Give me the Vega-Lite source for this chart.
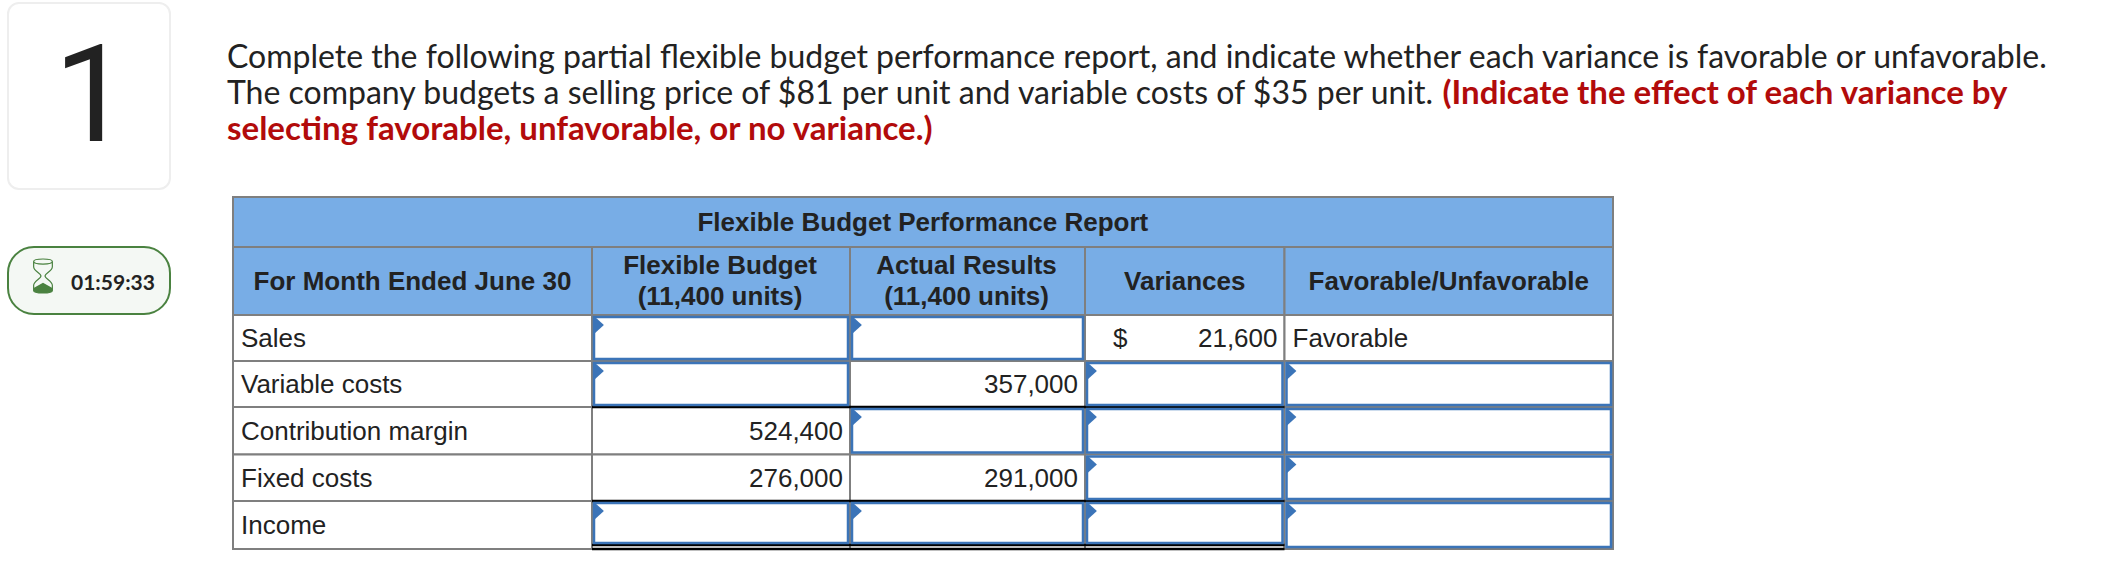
{
  "$schema": "https://vega.github.io/schema/vega-lite/v6.json",
  "description": "Partial flexible budget performance report with its question text.",
  "autosize": {"type": "fit", "contains": "padding"},
  "width": 2120,
  "height": 582,
  "padding": 0,
  "background": "white",
  "config": {"view": {"stroke": null}},
  "datasets": {
    "card": [{"col": -3, "col_end": -1, "row": -5, "row_end": -1}],
    "number": [{"col": -2, "row": -3, "label": "1"}],
    "timer": [{"col": -3, "col_end": -1, "row": 1, "row_end": 2, "label": "01:59:33"}],
    "timer_anchor": [{"col": -3, "row": 1.5, "label": "01:59:33"}],
    "prompt": [
      {"col": 0, "row": -4, "label": "Complete the following partial flexible budget performance report, and indicate whether each variance is favorable or unfavorable."},
      {"col": 0, "row": -3, "label": "The company budgets a selling price of $81 per unit and variable costs of $35 per unit."}
    ],
    "prompt_bold": [{"col": 0, "row": -2, "label": "selecting favorable, unfavorable, or no variance.)"}],
    "prompt_bold_inline": [{"col": 4, "row": -3, "label": "(Indicate the effect of each variance by"}],
    "header_cells": [
      {"col": 0, "col_end": 5, "row": 0, "row_end": 1},
      {"col": 0, "col_end": 1, "row": 1, "row_end": 2},
      {"col": 1, "col_end": 2, "row": 1, "row_end": 2},
      {"col": 2, "col_end": 3, "row": 1, "row_end": 2},
      {"col": 3, "col_end": 4, "row": 1, "row_end": 2},
      {"col": 4, "col_end": 5, "row": 1, "row_end": 2}
    ],
    "body_cells": [
      {"col": 0, "col_end": 1, "row": 2, "row_end": 3},
      {"col": 1, "col_end": 2, "row": 2, "row_end": 3},
      {"col": 2, "col_end": 3, "row": 2, "row_end": 3},
      {"col": 3, "col_end": 4, "row": 2, "row_end": 3},
      {"col": 4, "col_end": 5, "row": 2, "row_end": 3},
      {"col": 0, "col_end": 1, "row": 3, "row_end": 4},
      {"col": 1, "col_end": 2, "row": 3, "row_end": 4},
      {"col": 2, "col_end": 3, "row": 3, "row_end": 4},
      {"col": 3, "col_end": 4, "row": 3, "row_end": 4},
      {"col": 4, "col_end": 5, "row": 3, "row_end": 4},
      {"col": 0, "col_end": 1, "row": 4, "row_end": 5},
      {"col": 1, "col_end": 2, "row": 4, "row_end": 5},
      {"col": 2, "col_end": 3, "row": 4, "row_end": 5},
      {"col": 3, "col_end": 4, "row": 4, "row_end": 5},
      {"col": 4, "col_end": 5, "row": 4, "row_end": 5},
      {"col": 0, "col_end": 1, "row": 5, "row_end": 6},
      {"col": 1, "col_end": 2, "row": 5, "row_end": 6},
      {"col": 2, "col_end": 3, "row": 5, "row_end": 6},
      {"col": 3, "col_end": 4, "row": 5, "row_end": 6},
      {"col": 4, "col_end": 5, "row": 5, "row_end": 6},
      {"col": 0, "col_end": 1, "row": 6, "row_end": 7},
      {"col": 1, "col_end": 2, "row": 6, "row_end": 7},
      {"col": 2, "col_end": 3, "row": 6, "row_end": 7},
      {"col": 3, "col_end": 4, "row": 6, "row_end": 7},
      {"col": 4, "col_end": 5, "row": 6, "row_end": 7}
    ],
    "inputs": [
      {"line": "Sales", "column": "Flexible Budget", "col": 1, "col_end": 2, "row": 2, "row_end": 3},
      {"line": "Sales", "column": "Actual Results", "col": 2, "col_end": 3, "row": 2, "row_end": 3},
      {"line": "Variable costs", "column": "Flexible Budget", "col": 1, "col_end": 2, "row": 3, "row_end": 4},
      {"line": "Variable costs", "column": "Variances", "col": 3, "col_end": 4, "row": 3, "row_end": 4},
      {"line": "Variable costs", "column": "Favorable/Unfavorable", "col": 4, "col_end": 5, "row": 3, "row_end": 4},
      {"line": "Contribution margin", "column": "Actual Results", "col": 2, "col_end": 3, "row": 4, "row_end": 5},
      {"line": "Contribution margin", "column": "Variances", "col": 3, "col_end": 4, "row": 4, "row_end": 5},
      {"line": "Contribution margin", "column": "Favorable/Unfavorable", "col": 4, "col_end": 5, "row": 4, "row_end": 5},
      {"line": "Fixed costs", "column": "Variances", "col": 3, "col_end": 4, "row": 5, "row_end": 6},
      {"line": "Fixed costs", "column": "Favorable/Unfavorable", "col": 4, "col_end": 5, "row": 5, "row_end": 6},
      {"line": "Income", "column": "Favorable/Unfavorable", "col": 4, "col_end": 5, "row": 6, "row_end": 7}
    ],
    "total_inputs": [
      {"line": "Income", "column": "Flexible Budget", "col": 1, "col_end": 2, "row": 6, "row_end": 7},
      {"line": "Income", "column": "Actual Results", "col": 2, "col_end": 3, "row": 6, "row_end": 7},
      {"line": "Income", "column": "Variances", "col": 3, "col_end": 4, "row": 6, "row_end": 7}
    ],
    "rules": [
      {"col": 1, "col_end": 4, "row": 4},
      {"col": 1, "col_end": 4, "row": 6},
      {"col": 1, "col_end": 4, "row": 7}
    ],
    "double_rule": [{"col": 1, "col_end": 4, "row": 7}],
    "headers": [
      {"col": 2.31, "row": 0.5, "label": "Flexible Budget Performance Report"},
      {"col": 0.5, "row": 1.5, "label": "For Month Ended June 30"},
      {"col": 3.5, "row": 1.5, "label": "Variances"},
      {"col": 4.5, "row": 1.5, "label": "Favorable/Unfavorable"}
    ],
    "headers_stacked": [
      {"col": 1.5, "row": 1.5, "label": "Flexible Budget\n(11,400 units)"},
      {"col": 2.5, "row": 1.5, "label": "Actual Results\n(11,400 units)"}
    ],
    "labels": [
      {"col": 0, "row": 2.5, "label": "Sales"},
      {"col": 0, "row": 3.5, "label": "Variable costs"},
      {"col": 0, "row": 4.5, "label": "Contribution margin"},
      {"col": 0, "row": 5.5, "label": "Fixed costs"},
      {"col": 0, "row": 6.5, "label": "Income"},
      {"col": 3.1, "row": 2.5, "label": "$"},
      {"col": 4, "row": 2.5, "label": "Favorable"}
    ],
    "amounts": [
      {"col": 4, "row": 2.5, "label": "21,600"},
      {"col": 3, "row": 3.5, "label": "357,000"},
      {"col": 2, "row": 4.5, "label": "524,400"},
      {"col": 2, "row": 5.5, "label": "276,000"},
      {"col": 3, "row": 5.5, "label": "291,000"}
    ]
  },
  "encoding": {
    "x": {
      "field": "col",
      "type": "quantitative",
      "axis": null,
      "scale": {
        "domain": [-3, -2, -1, 0, 1, 2, 3, 4, 5],
        "range": [8, 88, 170, 233, 592, 850, 1085, 1284.5, 1613],
        "nice": false,
        "zero": false
      }
    },
    "y": {
      "field": "row",
      "type": "quantitative",
      "axis": null,
      "scale": {
        "domain": [-5, -4, -3, -2, -1, 0, 1, 2, 3, 4, 5, 6, 7],
        "range": [3, 57, 93, 129, 189, 197, 247, 315, 361, 407, 454.5, 501, 549],
        "nice": false,
        "zero": false
      }
    }
  },
  "layer": [
    {
      "data": {"name": "card"},
      "mark": {"type": "rect", "fill": "white", "stroke": "#eeeeee", "strokeWidth": 2, "cornerRadius": 11},
      "encoding": {"x2": {"field": "col_end"}, "y2": {"field": "row_end"}}
    },
    {
      "data": {"name": "number"},
      "mark": {"type": "text", "font": "Roboto", "fontWeight": 400, "fontSize": 136, "color": "#222222", "align": "center", "baseline": "middle", "dx": 4, "dy": 7},
      "encoding": {"text": {"field": "label"}}
    },
    {
      "data": {"name": "timer"},
      "mark": {"type": "rect", "fill": "#f4f8f4", "stroke": "#4a8240", "strokeWidth": 2, "cornerRadius": 26, "y2Offset": -1},
      "encoding": {"x2": {"field": "col_end"}, "y2": {"field": "row_end"}}
    },
    {
      "data": {"name": "timer_anchor"},
      "mark": {
        "type": "point",
        "shape": "M-0.55,-0.85C-0.55,-1.05 0.55,-1.05 0.55,-0.85L0.55,-0.55C0.55,-0.3 0.12,-0.15 0.12,0C0.12,0.15 0.55,0.3 0.55,0.55L0.55,0.85C0.55,1.05 -0.55,1.05 -0.55,0.85L-0.55,0.55C-0.55,0.3 -0.12,0.15 -0.12,0C-0.12,-0.15 -0.55,-0.3 -0.55,-0.55ZM-0.55,-0.85C-0.55,-0.65 0.55,-0.65 0.55,-0.85",
        "size": 1156,
        "filled": false,
        "stroke": "#4a8240",
        "strokeWidth": 1.2,
        "opacity": 1,
        "xOffset": 35,
        "yOffset": -5
      }
    },
    {
      "data": {"name": "timer_anchor"},
      "mark": {
        "type": "point",
        "shape": "M0,0.4L0.55,0.7L0.55,0.85C0.55,1.05 -0.55,1.05 -0.55,0.85L-0.55,0.7Z",
        "size": 1156,
        "filled": true,
        "fill": "#4a8240",
        "stroke": null,
        "opacity": 1,
        "xOffset": 35,
        "yOffset": -5
      }
    },
    {
      "data": {"name": "timer_anchor"},
      "mark": {"type": "text", "font": "Lato", "fontWeight": 700, "fontSize": 21, "color": "#222222", "align": "left", "baseline": "middle", "dx": 63, "dy": 3},
      "encoding": {"text": {"field": "label"}}
    },
    {
      "data": {"name": "prompt"},
      "mark": {"type": "text", "font": "Lato", "fontSize": 32, "color": "#222222", "align": "left", "baseline": "middle", "dx": -6, "dy": 1},
      "encoding": {"text": {"field": "label"}}
    },
    {
      "data": {"name": "prompt_bold"},
      "mark": {"type": "text", "font": "Lato", "fontWeight": 700, "fontSize": 33, "color": "#b20b0b", "align": "left", "baseline": "middle", "dx": -6, "dy": 1},
      "encoding": {"text": {"field": "label"}}
    },
    {
      "data": {"name": "prompt_bold_inline"},
      "mark": {"type": "text", "font": "Lato", "fontWeight": 700, "fontSize": 33, "color": "#b20b0b", "align": "left", "baseline": "middle", "dx": 158, "dy": 1},
      "encoding": {"text": {"field": "label"}}
    },
    {
      "data": {"name": "header_cells"},
      "mark": {"type": "rect", "fill": "#78ade6", "stroke": "#7f7f7f", "strokeWidth": 2},
      "encoding": {"x2": {"field": "col_end"}, "y2": {"field": "row_end"}}
    },
    {
      "data": {"name": "body_cells"},
      "mark": {"type": "rect", "fill": "white", "stroke": "#7f7f7f", "strokeWidth": 2},
      "encoding": {"x2": {"field": "col_end"}, "y2": {"field": "row_end"}}
    },
    {
      "data": {"name": "rules"},
      "mark": {"type": "rule", "stroke": "black", "strokeWidth": 2.5},
      "encoding": {"x2": {"field": "col_end"}}
    },
    {
      "data": {"name": "double_rule"},
      "mark": {"type": "rule", "stroke": "black", "strokeWidth": 2.5, "yOffset": -4},
      "encoding": {"x2": {"field": "col_end"}}
    },
    {
      "data": {"name": "inputs"},
      "mark": {"type": "rect", "fill": "white", "stroke": "#3b74b8", "strokeWidth": 2.5, "xOffset": 2, "x2Offset": -2, "yOffset": 2, "y2Offset": -2},
      "encoding": {"x2": {"field": "col_end"}, "y2": {"field": "row_end"}}
    },
    {
      "data": {"name": "total_inputs"},
      "mark": {"type": "rect", "fill": "white", "stroke": "#3b74b8", "strokeWidth": 2.5, "xOffset": 2, "x2Offset": -2, "yOffset": 2, "y2Offset": -6},
      "encoding": {"x2": {"field": "col_end"}, "y2": {"field": "row_end"}}
    },
    {
      "data": {"name": "inputs"},
      "mark": {"type": "point", "shape": "M0,-1L1.1,0L0,1Z", "size": 324, "filled": true, "fill": "#3b74b8", "stroke": null, "opacity": 1, "xOffset": 2, "yOffset": 10}
    },
    {
      "data": {"name": "total_inputs"},
      "mark": {"type": "point", "shape": "M0,-1L1.1,0L0,1Z", "size": 324, "filled": true, "fill": "#3b74b8", "stroke": null, "opacity": 1, "xOffset": 2, "yOffset": 10}
    },
    {
      "data": {"name": "headers"},
      "mark": {"type": "text", "font": "Liberation Sans", "fontWeight": 700, "fontSize": 26, "color": "#222222", "align": "center", "baseline": "middle", "dy": 1},
      "encoding": {"text": {"field": "label"}}
    },
    {
      "data": {"name": "headers_stacked"},
      "mark": {"type": "text", "font": "Liberation Sans", "fontWeight": 700, "fontSize": 26, "color": "#222222", "align": "center", "baseline": "middle", "lineBreak": "\n", "lineHeight": 31, "dy": -15, "dx": -1},
      "encoding": {"text": {"field": "label"}}
    },
    {
      "data": {"name": "labels"},
      "mark": {"type": "text", "font": "Liberation Sans", "fontSize": 26, "color": "#222222", "align": "left", "baseline": "middle", "dx": 8, "dy": 1},
      "encoding": {"text": {"field": "label"}}
    },
    {
      "data": {"name": "amounts"},
      "mark": {"type": "text", "font": "Liberation Sans", "fontSize": 26, "color": "#222222", "align": "right", "baseline": "middle", "dx": -7, "dy": 1},
      "encoding": {"text": {"field": "label"}}
    }
  ]
}
